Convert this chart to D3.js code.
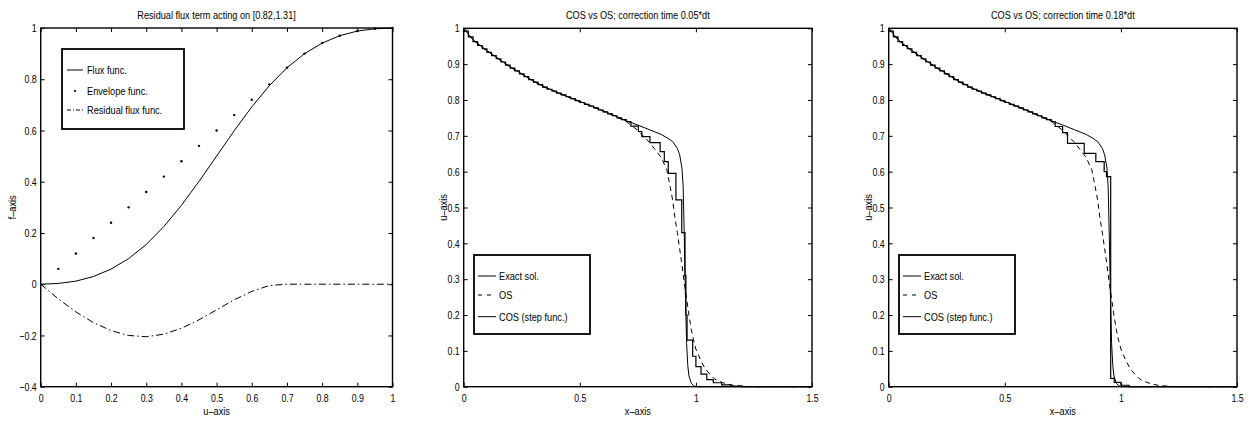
<!DOCTYPE html>
<html>
<head>
<meta charset="utf-8">
<script src="https://cdn.jsdelivr.net/npm/d3@7"></script>
<style>
  body { margin: 0; background: #fff; }
  svg text { font-family: "Liberation Sans", Arial, sans-serif; fill: #000; }
</style>
</head>
<body>
<svg id="chart" width="1256" height="421"></svg>
<script>
// ---- panel 1: flux / envelope / residual ----
var fluxU = [0,0.05,0.1,0.15,0.2,0.25,0.3,0.35,0.4,0.45,0.5,0.55,0.6,0.65,0.7,0.75,0.8,0.85,0.9,0.95,1];
var fluxF = [0,0.003,0.012,0.03,0.059,0.1,0.155,0.225,0.308,0.401,0.5,0.599,0.692,0.775,0.845,0.9,0.941,0.97,0.988,0.997,1];
var envU = [0.05,0.1,0.15,0.2,0.25,0.3,0.35,0.4,0.45,0.5,0.55,0.6,0.65,0.7,0.75,0.8,0.85,0.9,0.95,1];
var envF = [0.06,0.12,0.18,0.24,0.3,0.36,0.42,0.48,0.54,0.6,0.66,0.72,0.78,0.845,0.9,0.941,0.97,0.988,0.997,1];
var residF = [0,-0.057,-0.108,-0.15,-0.181,-0.2,-0.205,-0.195,-0.172,-0.139,-0.1,-0.061,-0.028,-0.005,0,0,0,0,0,0,0];

// ---- panels 2,3: exact, OS, COS ----
var exactX = [0,0.025,0.05,0.075,0.1,0.15,0.2,0.25,0.3,0.35,0.4,0.45,0.5,0.55,0.6,0.65,0.7,0.75,0.8,0.85,0.88,0.9,0.92,0.93,0.94,0.945,0.95,0.955,0.96,0.965,0.97,0.98,0.99,1,1.5];
var exactU = [1,0.98,0.963,0.95,0.938,0.915,0.893,0.873,0.853,0.836,0.822,0.809,0.796,0.783,0.77,0.756,0.742,0.73,0.717,0.704,0.693,0.684,0.665,0.647,0.61,0.56,0.42,0.25,0.12,0.06,0.03,0.01,0.003,0,0];

var osX = [0,0.025,0.05,0.1,0.15,0.2,0.25,0.3,0.35,0.4,0.45,0.5,0.55,0.6,0.65,0.7,0.75,0.8,0.85,0.875,0.89,0.9,0.91,0.92,0.93,0.94,0.95,0.96,0.97,0.98,0.99,1,1.02,1.04,1.06,1.08,1.1,1.13,1.16,1.2,1.25,1.5];
var osU = [1,0.978,0.962,0.937,0.914,0.892,0.872,0.852,0.835,0.821,0.808,0.795,0.782,0.769,0.755,0.74,0.715,0.682,0.64,0.605,0.555,0.52,0.47,0.43,0.385,0.34,0.29,0.245,0.2,0.16,0.13,0.105,0.075,0.05,0.035,0.022,0.015,0.008,0.004,0.0015,0,0];

// step functions (value holds until next x)
var cosHeadX = [0,0.02,0.04,0.06,0.08,0.1,0.12,0.14,0.16,0.18,0.2,0.22,0.24,0.26,0.28,0.3,0.32,0.34,0.36,0.38,0.4,0.42,0.44,0.46,0.48,0.5,0.52,0.54,0.56,0.58,0.6,0.62,0.64,0.66,0.68,0.7];
var cosHeadU = [0.992,0.976,0.963,0.952,0.943,0.933,0.924,0.915,0.906,0.897,0.889,0.881,0.873,0.865,0.857,0.85,0.843,0.836,0.83,0.825,0.819,0.814,0.809,0.804,0.798,0.793,0.788,0.783,0.778,0.772,0.767,0.761,0.756,0.75,0.745,0.74];

var cos1TailX = [0.72,0.752,0.767,0.802,0.846,0.864,0.881,0.914,0.939,0.953,0.957,0.962,0.986,1,1.022,1.047,1.075,1.111,1.15,1.2,1.5];
var cos1TailU = [0.727,0.712,0.698,0.681,0.656,0.628,0.595,0.521,0.43,0.31,0.2,0.13,0.085,0.056,0.035,0.02,0.011,0.005,0.002,0,0];

var cos2TailX = [0.717,0.749,0.77,0.842,0.892,0.928,0.938,0.956,0.971,1,1.035,1.5];
var cos2TailU = [0.726,0.709,0.679,0.651,0.628,0.6,0.586,0.023,0.012,0.004,0,0];

var ticks1X = [0,0.1,0.2,0.3,0.4,0.5,0.6,0.7,0.8,0.9,1];
var ticks1Y = [-0.4,-0.2,0,0.2,0.4,0.6,0.8,1];
var ticks2X = [0,0.5,1,1.5];
var ticks2Y = [0,0.1,0.2,0.3,0.4,0.5,0.6,0.7,0.8,0.9,1];

var svg = d3.select("#chart");
var FS = 11.5;

function fmt(v){ return v < 0 ? "\u2212" + d3.format("")(-v) : d3.format("")(v); }

function zip(xs, ys){ return xs.map(function(x, i){ return [x, ys[i]]; }); }

function drawAxes(g, x, y, tx, ty, w, h){
	var tl = 4;
	g.append("g").attr("transform", "translate(0," + h + ")")
		.call(d3.axisBottom(x).tickValues(tx).tickFormat(fmt).tickSize(-tl).tickSizeOuter(0).tickPadding(7));
	g.append("g")
		.call(d3.axisLeft(y).tickValues(ty).tickFormat(fmt).tickSize(-tl).tickSizeOuter(0).tickPadding(4));
	g.append("g")
		.call(d3.axisTop(x).tickValues(tx).tickFormat("").tickSize(-tl).tickSizeOuter(0));
	g.append("g").attr("transform", "translate(" + w + ",0)")
		.call(d3.axisRight(y).tickValues(ty).tickFormat("").tickSize(-tl).tickSizeOuter(0));
	g.selectAll(".domain").remove();
	g.selectAll(".tick line").attr("stroke", "#000").attr("stroke-width", 1);
	g.selectAll(".tick text").style("font-size", FS + "px").style("font-family", null).attr("data-sq", 0.76);
	g.append("rect").attr("width", w).attr("height", h)
		.attr("fill", "none").attr("stroke", "#000").attr("stroke-width", 1.4);
}

function labels(g, w, h, title, xl, yl, ylx){
	g.append("text").attr("x", w/2).attr("y", -9).attr("text-anchor", "middle")
		.style("font-size", "10.5px").attr("data-sq", 0.87).text(title);
	g.append("text").attr("x", w/2).attr("y", h + 28).attr("text-anchor", "middle")
		.style("font-size", FS + "px").attr("data-sq", 0.8).text(xl);
	g.append("text").attr("transform", "translate(" + ylx + "," + (h/2) + ") rotate(-90)")
		.attr("text-anchor", "middle").style("font-size", FS + "px").attr("data-sq", 0.8).text(yl);
}

function legend(g, bx, by, bw, bh, items){
	var lg = g.append("g").attr("transform", "translate(" + bx + "," + by + ")");
	lg.append("rect").attr("width", bw).attr("height", bh)
		.attr("fill", "#fff").attr("stroke", "#000").attr("stroke-width", 1.8);
	items.forEach(function(it){
		if (it.dot) {
			lg.append("circle").attr("cx", (it.x0 + it.x1)/2).attr("cy", it.y).attr("r", 1.1).attr("fill", "#000");
		} else {
			lg.append("line").attr("x1", it.x0).attr("x2", it.x1).attr("y1", it.y).attr("y2", it.y)
				.attr("stroke", "#000").attr("stroke-width", 1).attr("stroke-dasharray", it.dash || null);
		}
		lg.append("text").attr("x", it.tx).attr("y", it.y).attr("dy", "0.35em")
			.style("font-size", FS + "px").attr("data-sq", 0.8).text(it.label);
	});
}

// ---------- panel 1 ----------
(function(){
	var left = 40.7, top = 28, w = 351.8, h = 358.7;
	var g = svg.append("g").attr("transform", "translate(" + left + "," + top + ")");
	var x = d3.scaleLinear().domain([0, 1]).range([0, w]);
	var y = d3.scaleLinear().domain([-0.4, 1]).range([h, 0]);
	var line = d3.line().x(function(d){ return x(d[0]); }).y(function(d){ return y(d[1]); });

	g.append("path").datum(zip(fluxU, fluxF)).attr("d", line)
		.attr("fill", "none").attr("stroke", "#000").attr("stroke-width", 1);
	g.append("path").datum(zip(fluxU, residF)).attr("d", line)
		.attr("fill", "none").attr("stroke", "#000").attr("stroke-width", 1)
		.attr("stroke-dasharray", "7,3,1.5,3");
	g.selectAll("circle.env").data(zip(envU, envF)).enter().append("circle")
		.attr("class", "env").attr("cx", function(d){ return x(d[0]); }).attr("cy", function(d){ return y(d[1]); })
		.attr("r", 1.2).attr("fill", "#000");

	drawAxes(g, x, y, ticks1X, ticks1Y, w, h);
	labels(g, w, h, "Residual flux term acting on [0.82,1.31]", "u\u2013axis", "f\u2013axis", -25);
	legend(g, 21.3, 21, 122, 80, [
		{label: "Flux func.", x0: 5, x1: 21, tx: 25, y: 21},
		{label: "Envelope func.", x0: 5, x1: 21, tx: 25, y: 42, dot: true},
		{label: "Residual flux func.", x0: 5, x1: 21, tx: 25, y: 61, dash: "4,2,1,2"}
	]);
})();

// ---------- panels 2 and 3 ----------
function solPanel(left, title, cosX, cosU){
	var top = 28.3, w = 348.3, h = 358.4;
	var g = svg.append("g").attr("transform", "translate(" + left + "," + top + ")");
	var x = d3.scaleLinear().domain([0, 1.5]).range([0, w]);
	var y = d3.scaleLinear().domain([0, 1]).range([h, 0]);
	var line = d3.line().x(function(d){ return x(d[0]); }).y(function(d){ return y(d[1]); });
	var step = d3.line().curve(d3.curveStepAfter).x(function(d){ return x(d[0]); }).y(function(d){ return y(d[1]); });

	g.append("path").datum(zip(exactX, exactU)).attr("d", line)
		.attr("fill", "none").attr("stroke", "#000").attr("stroke-width", 1);
	g.append("path").datum(zip(osX, osU)).attr("d", line)
		.attr("fill", "none").attr("stroke", "#000").attr("stroke-width", 1)
		.attr("stroke-dasharray", "5,4");
	g.append("path").datum(zip(cosX, cosU)).attr("d", step)
		.attr("fill", "none").attr("stroke", "#000").attr("stroke-width", 1.2);

	drawAxes(g, x, y, ticks2X, ticks2Y, w, h);
	labels(g, w, h, title, "x\u2013axis", "u\u2013axis", -17);
	legend(g, 10.3, 226.7, 116, 79, [
		{label: "Exact sol.", x0: 4, x1: 22, tx: 25, y: 21},
		{label: "OS", x0: 4, x1: 22, tx: 25, y: 40, dash: "4,5"},
		{label: "COS (step func.)", x0: 4, x1: 22, tx: 25, y: 61.7}
	]);
}

solPanel(463.7, "COS vs OS; correction time 0.05*dt", cosHeadX.concat(cos1TailX), cosHeadU.concat(cos1TailU));
solPanel(888.7, "COS vs OS; correction time 0.18*dt", cosHeadX.concat(cos2TailX), cosHeadU.concat(cos2TailU));

// squeeze every label to mimic the condensed face of the original
svg.selectAll("text").each(function(){
	var k = +this.getAttribute("data-sq") || 0.8;
	var len = this.getComputedTextLength();
	d3.select(this).attr("textLength", len * k).attr("lengthAdjust", "spacingAndGlyphs");
});
</script>
</body>
</html>
